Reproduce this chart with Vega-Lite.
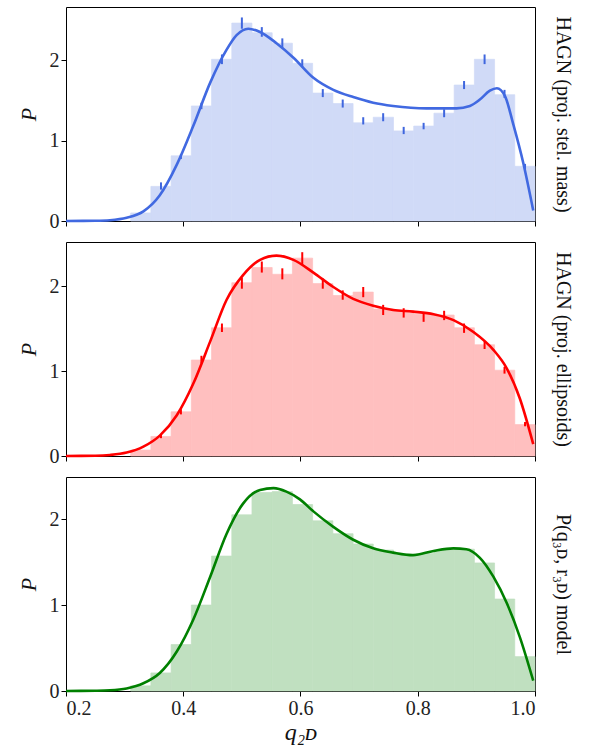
{
  "$schema": "https://vega.github.io/schema/vega-lite/v6.json",
  "padding": {"left": 16, "top": 6, "right": 0, "bottom": 0},
  "background": "white",
  "config": {
    "font": "Liberation Serif",
    "view": {"stroke": "black", "strokeWidth": 1},
    "axis": {
      "grid": false,
      "domain": false,
      "tickColor": "black",
      "tickSize": 5,
      "labelFontSize": 20,
      "labelColor": "#222",
      "labelPadding": 2,
      "titleFontSize": 22,
      "titleFontWeight": "normal",
      "titleColor": "#111",
      "labelFont": "Liberation Serif",
      "titleFont": "Liberation Serif"
    }
  },
  "datasets": {
    "hist": [
      {"panel": 1, "lo": 0.3103, "hi": 0.3448, "p": 0.10},
      {"panel": 1, "lo": 0.3448, "hi": 0.3793, "p": 0.43},
      {"panel": 1, "lo": 0.3793, "hi": 0.4138, "p": 0.81},
      {"panel": 1, "lo": 0.4138, "hi": 0.4483, "p": 1.43},
      {"panel": 1, "lo": 0.4483, "hi": 0.4828, "p": 2.01},
      {"panel": 1, "lo": 0.4828, "hi": 0.5172, "p": 2.46},
      {"panel": 1, "lo": 0.5172, "hi": 0.5517, "p": 2.34},
      {"panel": 1, "lo": 0.5517, "hi": 0.5862, "p": 2.21},
      {"panel": 1, "lo": 0.5862, "hi": 0.6207, "p": 1.96},
      {"panel": 1, "lo": 0.6207, "hi": 0.6552, "p": 1.59},
      {"panel": 1, "lo": 0.6552, "hi": 0.6897, "p": 1.46},
      {"panel": 1, "lo": 0.6897, "hi": 0.7241, "p": 1.22},
      {"panel": 1, "lo": 0.7241, "hi": 0.7586, "p": 1.29},
      {"panel": 1, "lo": 0.7586, "hi": 0.7931, "p": 1.12},
      {"panel": 1, "lo": 0.7931, "hi": 0.8276, "p": 1.18},
      {"panel": 1, "lo": 0.8276, "hi": 0.8621, "p": 1.34},
      {"panel": 1, "lo": 0.8621, "hi": 0.8966, "p": 1.69},
      {"panel": 1, "lo": 0.8966, "hi": 0.9310, "p": 2.01},
      {"panel": 1, "lo": 0.9310, "hi": 0.9655, "p": 1.57},
      {"panel": 1, "lo": 0.9655, "hi": 1.0, "p": 0.68},
      {"panel": 2, "lo": 0.3103, "hi": 0.3448, "p": 0.07},
      {"panel": 2, "lo": 0.3448, "hi": 0.3793, "p": 0.23},
      {"panel": 2, "lo": 0.3793, "hi": 0.4138, "p": 0.52},
      {"panel": 2, "lo": 0.4138, "hi": 0.4483, "p": 1.13},
      {"panel": 2, "lo": 0.4483, "hi": 0.4828, "p": 1.51},
      {"panel": 2, "lo": 0.4828, "hi": 0.5172, "p": 2.04},
      {"panel": 2, "lo": 0.5172, "hi": 0.5517, "p": 2.22},
      {"panel": 2, "lo": 0.5517, "hi": 0.5862, "p": 2.14},
      {"panel": 2, "lo": 0.5862, "hi": 0.6207, "p": 2.33},
      {"panel": 2, "lo": 0.6207, "hi": 0.6552, "p": 2.03},
      {"panel": 2, "lo": 0.6552, "hi": 0.6897, "p": 1.89},
      {"panel": 2, "lo": 0.6897, "hi": 0.7241, "p": 1.93},
      {"panel": 2, "lo": 0.7241, "hi": 0.7586, "p": 1.73},
      {"panel": 2, "lo": 0.7586, "hi": 0.7931, "p": 1.71},
      {"panel": 2, "lo": 0.7931, "hi": 0.8276, "p": 1.67},
      {"panel": 2, "lo": 0.8276, "hi": 0.8621, "p": 1.66},
      {"panel": 2, "lo": 0.8621, "hi": 0.8966, "p": 1.51},
      {"panel": 2, "lo": 0.8966, "hi": 0.9310, "p": 1.31},
      {"panel": 2, "lo": 0.9310, "hi": 0.9655, "p": 1.01},
      {"panel": 2, "lo": 0.9655, "hi": 1.0, "p": 0.37},
      {"panel": 3, "lo": 0.3103, "hi": 0.3448, "p": 0.06},
      {"panel": 3, "lo": 0.3448, "hi": 0.3793, "p": 0.21},
      {"panel": 3, "lo": 0.3793, "hi": 0.4138, "p": 0.54},
      {"panel": 3, "lo": 0.4138, "hi": 0.4483, "p": 1.00},
      {"panel": 3, "lo": 0.4483, "hi": 0.4828, "p": 1.57},
      {"panel": 3, "lo": 0.4828, "hi": 0.5172, "p": 2.05},
      {"panel": 3, "lo": 0.5172, "hi": 0.5517, "p": 2.31},
      {"panel": 3, "lo": 0.5517, "hi": 0.5862, "p": 2.32},
      {"panel": 3, "lo": 0.5862, "hi": 0.6207, "p": 2.17},
      {"panel": 3, "lo": 0.6207, "hi": 0.6552, "p": 1.98},
      {"panel": 3, "lo": 0.6552, "hi": 0.6897, "p": 1.83},
      {"panel": 3, "lo": 0.6897, "hi": 0.7241, "p": 1.71},
      {"panel": 3, "lo": 0.7241, "hi": 0.7586, "p": 1.64},
      {"panel": 3, "lo": 0.7586, "hi": 0.7931, "p": 1.60},
      {"panel": 3, "lo": 0.7931, "hi": 0.8276, "p": 1.60},
      {"panel": 3, "lo": 0.8276, "hi": 0.8621, "p": 1.64},
      {"panel": 3, "lo": 0.8621, "hi": 0.8966, "p": 1.65},
      {"panel": 3, "lo": 0.8966, "hi": 0.9310, "p": 1.49},
      {"panel": 3, "lo": 0.9310, "hi": 0.9655, "p": 1.07},
      {"panel": 3, "lo": 0.9655, "hi": 1.0, "p": 0.40}
    ],
    "err": [
      {"panel": 1, "q": 0.362, "lo": 0.39, "hi": 0.48},
      {"panel": 1, "q": 0.396, "lo": 0.77, "hi": 0.83},
      {"panel": 1, "q": 0.431, "lo": 1.39, "hi": 1.47},
      {"panel": 1, "q": 0.466, "lo": 1.95, "hi": 2.07},
      {"panel": 1, "q": 0.500, "lo": 2.39, "hi": 2.53},
      {"panel": 1, "q": 0.534, "lo": 2.29, "hi": 2.41},
      {"panel": 1, "q": 0.569, "lo": 2.15, "hi": 2.27},
      {"panel": 1, "q": 0.603, "lo": 1.91, "hi": 2.01},
      {"panel": 1, "q": 0.638, "lo": 1.54, "hi": 1.64},
      {"panel": 1, "q": 0.672, "lo": 1.41, "hi": 1.51},
      {"panel": 1, "q": 0.707, "lo": 1.20, "hi": 1.29},
      {"panel": 1, "q": 0.741, "lo": 1.24, "hi": 1.34},
      {"panel": 1, "q": 0.776, "lo": 1.08, "hi": 1.17},
      {"panel": 1, "q": 0.810, "lo": 1.14, "hi": 1.22},
      {"panel": 1, "q": 0.845, "lo": 1.29, "hi": 1.39},
      {"panel": 1, "q": 0.879, "lo": 1.64, "hi": 1.74},
      {"panel": 1, "q": 0.914, "lo": 1.95, "hi": 2.07},
      {"panel": 1, "q": 0.948, "lo": 1.53, "hi": 1.63},
      {"panel": 1, "q": 0.983, "lo": 0.64, "hi": 0.71},
      {"panel": 2, "q": 0.362, "lo": 0.21, "hi": 0.25},
      {"panel": 2, "q": 0.396, "lo": 0.49, "hi": 0.55},
      {"panel": 2, "q": 0.431, "lo": 1.09, "hi": 1.18},
      {"panel": 2, "q": 0.466, "lo": 1.46, "hi": 1.56},
      {"panel": 2, "q": 0.500, "lo": 1.97, "hi": 2.10},
      {"panel": 2, "q": 0.534, "lo": 2.16, "hi": 2.29},
      {"panel": 2, "q": 0.569, "lo": 2.08, "hi": 2.21},
      {"panel": 2, "q": 0.603, "lo": 2.25, "hi": 2.40},
      {"panel": 2, "q": 0.638, "lo": 1.97, "hi": 2.09},
      {"panel": 2, "q": 0.672, "lo": 1.84, "hi": 1.95},
      {"panel": 2, "q": 0.707, "lo": 1.87, "hi": 1.99},
      {"panel": 2, "q": 0.741, "lo": 1.66, "hi": 1.78},
      {"panel": 2, "q": 0.776, "lo": 1.63, "hi": 1.74},
      {"panel": 2, "q": 0.810, "lo": 1.58, "hi": 1.69},
      {"panel": 2, "q": 0.845, "lo": 1.60, "hi": 1.71},
      {"panel": 2, "q": 0.879, "lo": 1.45, "hi": 1.56},
      {"panel": 2, "q": 0.914, "lo": 1.26, "hi": 1.35},
      {"panel": 2, "q": 0.948, "lo": 0.97, "hi": 1.05},
      {"panel": 2, "q": 0.983, "lo": 0.35, "hi": 0.40}
    ],
    "kde": [
      {"panel": 1, "q": 0.20, "p": 0.0},
      {"panel": 1, "q": 0.25, "p": 0.003},
      {"panel": 1, "q": 0.275, "p": 0.01},
      {"panel": 1, "q": 0.3035, "p": 0.04},
      {"panel": 1, "q": 0.332, "p": 0.12},
      {"panel": 1, "q": 0.36, "p": 0.32},
      {"panel": 1, "q": 0.389, "p": 0.70},
      {"panel": 1, "q": 0.417, "p": 1.18},
      {"panel": 1, "q": 0.446, "p": 1.72},
      {"panel": 1, "q": 0.474, "p": 2.13},
      {"panel": 1, "q": 0.491, "p": 2.31},
      {"panel": 1, "q": 0.511, "p": 2.39},
      {"panel": 1, "q": 0.531, "p": 2.35},
      {"panel": 1, "q": 0.559, "p": 2.21},
      {"panel": 1, "q": 0.588, "p": 2.03},
      {"panel": 1, "q": 0.622, "p": 1.78},
      {"panel": 1, "q": 0.656, "p": 1.63},
      {"panel": 1, "q": 0.690, "p": 1.54},
      {"panel": 1, "q": 0.724, "p": 1.47},
      {"panel": 1, "q": 0.758, "p": 1.43},
      {"panel": 1, "q": 0.815, "p": 1.40},
      {"panel": 1, "q": 0.866, "p": 1.40},
      {"panel": 1, "q": 0.889, "p": 1.43},
      {"panel": 1, "q": 0.906, "p": 1.51},
      {"panel": 1, "q": 0.923, "p": 1.62},
      {"panel": 1, "q": 0.935, "p": 1.65},
      {"panel": 1, "q": 0.949, "p": 1.55},
      {"panel": 1, "q": 0.963, "p": 1.20},
      {"panel": 1, "q": 0.980, "p": 0.72},
      {"panel": 1, "q": 0.997, "p": 0.13},
      {"panel": 2, "q": 0.20, "p": 0.0},
      {"panel": 2, "q": 0.25, "p": 0.003},
      {"panel": 2, "q": 0.275, "p": 0.012},
      {"panel": 2, "q": 0.3035, "p": 0.04},
      {"panel": 2, "q": 0.332, "p": 0.11},
      {"panel": 2, "q": 0.36, "p": 0.24},
      {"panel": 2, "q": 0.389, "p": 0.48},
      {"panel": 2, "q": 0.417, "p": 0.85},
      {"panel": 2, "q": 0.446, "p": 1.35},
      {"panel": 2, "q": 0.474, "p": 1.84},
      {"panel": 2, "q": 0.502, "p": 2.13},
      {"panel": 2, "q": 0.531, "p": 2.31},
      {"panel": 2, "q": 0.559, "p": 2.36},
      {"panel": 2, "q": 0.588, "p": 2.31},
      {"panel": 2, "q": 0.622, "p": 2.16},
      {"panel": 2, "q": 0.656, "p": 1.99},
      {"panel": 2, "q": 0.690, "p": 1.85},
      {"panel": 2, "q": 0.724, "p": 1.77},
      {"panel": 2, "q": 0.758, "p": 1.72},
      {"panel": 2, "q": 0.792, "p": 1.70},
      {"panel": 2, "q": 0.827, "p": 1.67},
      {"panel": 2, "q": 0.861, "p": 1.60},
      {"panel": 2, "q": 0.895, "p": 1.46},
      {"panel": 2, "q": 0.929, "p": 1.25},
      {"panel": 2, "q": 0.952, "p": 1.03},
      {"panel": 2, "q": 0.974, "p": 0.68},
      {"panel": 2, "q": 0.997, "p": 0.14},
      {"panel": 3, "q": 0.20, "p": 0.0},
      {"panel": 3, "q": 0.25, "p": 0.003},
      {"panel": 3, "q": 0.275, "p": 0.008},
      {"panel": 3, "q": 0.3035, "p": 0.03},
      {"panel": 3, "q": 0.332, "p": 0.09},
      {"panel": 3, "q": 0.36, "p": 0.21},
      {"panel": 3, "q": 0.389, "p": 0.46},
      {"panel": 3, "q": 0.417, "p": 0.83},
      {"panel": 3, "q": 0.446, "p": 1.33},
      {"panel": 3, "q": 0.474, "p": 1.83},
      {"panel": 3, "q": 0.502, "p": 2.18},
      {"panel": 3, "q": 0.531, "p": 2.34},
      {"panel": 3, "q": 0.554, "p": 2.36},
      {"panel": 3, "q": 0.576, "p": 2.32},
      {"panel": 3, "q": 0.599, "p": 2.23},
      {"panel": 3, "q": 0.622, "p": 2.09},
      {"panel": 3, "q": 0.656, "p": 1.91},
      {"panel": 3, "q": 0.690, "p": 1.76},
      {"panel": 3, "q": 0.724, "p": 1.66},
      {"panel": 3, "q": 0.758, "p": 1.61},
      {"panel": 3, "q": 0.792, "p": 1.58},
      {"panel": 3, "q": 0.827, "p": 1.63},
      {"panel": 3, "q": 0.861, "p": 1.66},
      {"panel": 3, "q": 0.883, "p": 1.65},
      {"panel": 3, "q": 0.906, "p": 1.55},
      {"panel": 3, "q": 0.929, "p": 1.33},
      {"panel": 3, "q": 0.952, "p": 1.02},
      {"panel": 3, "q": 0.974, "p": 0.63},
      {"panel": 3, "q": 0.997, "p": 0.12}
    ]
  },
  "vconcat": [
    {
      "width": 469, "height": 214,
      "layer": [
        {
          "data": {"name": "hist"},
          "transform": [{"filter": "datum.panel == 1"}],
          "mark": {"type": "bar", "color": "#D0DAF7", "stroke": "#D0DAF7", "strokeWidth": 0.7, "cornerRadius": 0},
          "encoding": {
            "x": {"field": "lo", "type": "quantitative", "scale": {"domain": [0.2, 1.0], "nice": false}, "axis": {"values": [0.2, 0.4, 0.6, 0.8, 1.0], "labels": false, "title": null}},
            "x2": {"field": "hi"},
            "y": {"field": "p", "type": "quantitative", "scale": {"domain": [0, 2.66], "nice": false}, "axis": {"values": [0, 1, 2], "title": "P", "titleFontStyle": "italic", "titlePadding": 9}},
            "y2": {"datum": 0}
          }
        },
        {
          "data": {"name": "err"},
          "transform": [{"filter": "datum.panel == 1"}],
          "mark": {"type": "rule", "color": "#3f66de", "strokeWidth": 2},
          "encoding": {
            "x": {"field": "q", "type": "quantitative"},
            "y": {"field": "lo", "type": "quantitative", "axis": null},
            "y2": {"field": "hi"}
          }
        },
        {
          "data": {"name": "kde"},
          "transform": [{"filter": "datum.panel == 1"}],
          "mark": {"type": "line", "color": "#4169E1", "strokeWidth": 2.6, "interpolate": "monotone"},
          "encoding": {
            "x": {"field": "q", "type": "quantitative"},
            "y": {"field": "p", "type": "quantitative", "axis": {"orient": "right", "labels": false, "ticks": false, "title": "HAGN (proj. stel. mass)", "titleFontSize": 20, "titlePadding": 17}}
          }
        }
      ],
      "resolve": {"axis": {"y": "independent"}}
    },
    {
      "width": 469, "height": 214,
      "layer": [
        {
          "data": {"name": "hist"},
          "transform": [{"filter": "datum.panel == 2"}],
          "mark": {"type": "bar", "color": "#FFBFBF", "stroke": "#FFBFBF", "strokeWidth": 0.7, "cornerRadius": 0},
          "encoding": {
            "x": {"field": "lo", "type": "quantitative", "scale": {"domain": [0.2, 1.0], "nice": false}, "axis": {"values": [0.2, 0.4, 0.6, 0.8, 1.0], "labels": false, "title": null}},
            "x2": {"field": "hi"},
            "y": {"field": "p", "type": "quantitative", "scale": {"domain": [0, 2.52], "nice": false}, "axis": {"values": [0, 1, 2], "title": "P", "titleFontStyle": "italic", "titlePadding": 9}},
            "y2": {"datum": 0}
          }
        },
        {
          "data": {"name": "err"},
          "transform": [{"filter": "datum.panel == 2"}],
          "mark": {"type": "rule", "color": "#FF0000", "strokeWidth": 2},
          "encoding": {
            "x": {"field": "q", "type": "quantitative"},
            "y": {"field": "lo", "type": "quantitative", "axis": null},
            "y2": {"field": "hi"}
          }
        },
        {
          "data": {"name": "kde"},
          "transform": [{"filter": "datum.panel == 2"}],
          "mark": {"type": "line", "color": "#FF0000", "strokeWidth": 2.6, "interpolate": "monotone"},
          "encoding": {
            "x": {"field": "q", "type": "quantitative"},
            "y": {"field": "p", "type": "quantitative", "axis": {"orient": "right", "labels": false, "ticks": false, "title": "HAGN (proj. ellipsoids)", "titleFontSize": 20, "titlePadding": 17}}
          }
        }
      ],
      "resolve": {"axis": {"y": "independent"}}
    },
    {
      "width": 469, "height": 214,
      "layer": [
        {
          "data": {"name": "hist"},
          "transform": [{"filter": "datum.panel == 3"}],
          "mark": {"type": "bar", "color": "#C0E0C0", "stroke": "#C0E0C0", "strokeWidth": 0.7, "cornerRadius": 0},
          "encoding": {
            "x": {"field": "lo", "type": "quantitative", "scale": {"domain": [0.2, 1.0], "nice": false}, "axis": {"values": [0.2, 0.4, 0.6, 0.8, 1.0], "format": ".1f", "title": "q₂ᴅ", "titleFontStyle": "italic", "titleFontSize": 24, "titlePadding": 2}},
            "x2": {"field": "hi"},
            "y": {"field": "p", "type": "quantitative", "scale": {"domain": [0, 2.49], "nice": false}, "axis": {"values": [0, 1, 2], "title": "P", "titleFontStyle": "italic", "titlePadding": 9}},
            "y2": {"datum": 0}
          }
        },
        {
          "data": {"name": "kde"},
          "transform": [{"filter": "datum.panel == 3"}],
          "mark": {"type": "line", "color": "#008000", "strokeWidth": 2.6, "interpolate": "monotone"},
          "encoding": {
            "x": {"field": "q", "type": "quantitative"},
            "y": {"field": "p", "type": "quantitative", "axis": {"orient": "right", "labels": false, "ticks": false, "title": "P(q₃ᴅ, r₃ᴅ) model", "titleFontSize": 20, "titlePadding": 17}}
          }
        }
      ],
      "resolve": {"axis": {"y": "independent"}}
    }
  ],
  "spacing": 21,
  "bounds": "flush"
}
